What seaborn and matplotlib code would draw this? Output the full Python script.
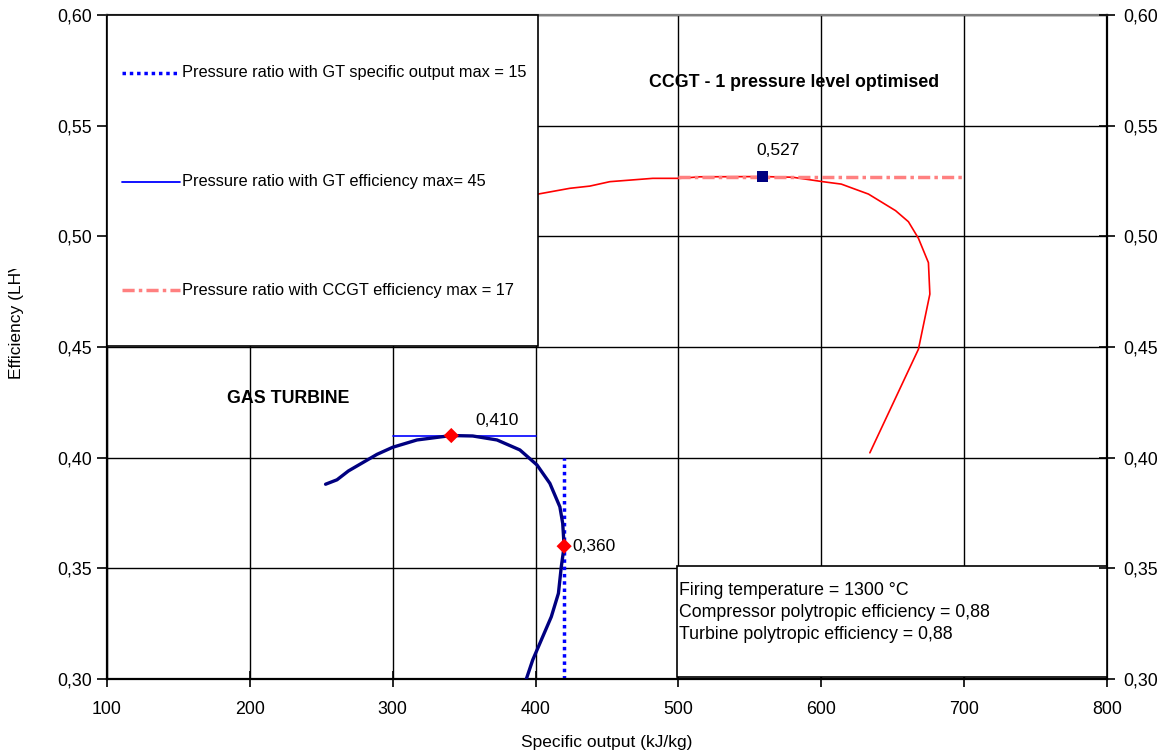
import matplotlib
matplotlib.use("Agg")
import matplotlib.pyplot as plt
from matplotlib.patches import Rectangle
from matplotlib.lines import Line2D
from matplotlib.ticker import FuncFormatter, MultipleLocator
import seaborn as sns

# Gas turbine: efficiency vs specific output over the pressure-ratio sweep
gt_output = [253, 261, 269, 277, 289, 300, 317, 341, 356, 373, 389, 401,
             410, 417, 419, 420, 418, 416, 411, 404, 398, 393]
gt_eff = [0.388, 0.390, 0.394, 0.397, 0.4015, 0.4047, 0.408, 0.410, 0.4098,
          0.408, 0.4035, 0.3967, 0.3884, 0.3778, 0.3703, 0.360, 0.3507,
          0.3387, 0.3281, 0.3176, 0.3086, 0.299]

# Combined cycle, one pressure level
cc_output = [395, 424, 438, 452, 482, 501, 515, 559, 580, 601, 614, 622,
             633, 652, 661, 668, 675, 676, 668, 634]
cc_eff = [0.5183, 0.5217, 0.5227, 0.5247, 0.5262, 0.5262, 0.5269, 0.527,
          0.5267, 0.5247, 0.5236, 0.5217, 0.5191, 0.5116, 0.5066, 0.4991,
          0.4881, 0.4739, 0.4490, 0.4022]

# Optimum points
gt_eff_max = (341, 0.410)
gt_out_max = (420, 0.360)
cc_eff_max = (559, 0.527)

# Pressure-ratio reference lines
ref_out_x, ref_out_y = [420, 420], [0.30, 0.40]
ref_gteff_x, ref_gteff_y = [300, 400], [0.410, 0.410]
ref_cceff_x, ref_cceff_y = [500, 700], [0.527, 0.527]

legend_labels = ["Pressure ratio with GT specific output max = 15",
                 "Pressure ratio with GT efficiency max= 45",
                 "Pressure ratio with CCGT efficiency max = 17"]
info_lines = ["Firing temperature = 1300 \u00b0C",
              "Compressor polytropic efficiency = 0,88",
              "Turbine polytropic efficiency = 0,88"]

sns.set_theme(style="white")
plt.rcParams["font.family"] = ["Liberation Sans", "DejaVu Sans"]
plt.rcParams.update({"text.color": "black", "axes.labelcolor": "black",
                     "xtick.color": "black", "ytick.color": "black"})

fig = plt.figure(figsize=(11.64, 7.51), dpi=100)
ax = fig.add_axes([107 / 1164, 1 - 679 / 751, 1000 / 1164, 664 / 751])

pink = "#ff8080"
navy = "#000080"

sns.lineplot(x=cc_output, y=cc_eff, sort=False, estimator=None, ax=ax,
             color="#ff0000", lw=1.2, zorder=3)
line_cc = sns.lineplot(x=ref_cceff_x, y=ref_cceff_y, sort=False, estimator=None,
                       ax=ax, color=pink, lw=2.5, zorder=4).lines[-1]
line_cc.set_dashes((3.5, 1.2, 1.0, 1.2))
sns.lineplot(x=gt_output, y=gt_eff, sort=False, estimator=None, ax=ax,
             color=navy, lw=2.4, zorder=3)
sns.lineplot(x=ref_gteff_x, y=ref_gteff_y, sort=False, estimator=None, ax=ax,
             color="#0000ff", lw=1.2, zorder=2)
line_out = sns.lineplot(x=ref_out_x, y=ref_out_y, sort=False, estimator=None,
                        ax=ax, color="#0000ff", lw=2.5, zorder=2).lines[-1]
line_out.set_dashes((1, 1.1))

sns.scatterplot(x=[gt_eff_max[0], gt_out_max[0]], y=[gt_eff_max[1], gt_out_max[1]],
                ax=ax, marker="D", s=60, color="#ff0000", edgecolor="none", zorder=5)
sns.scatterplot(x=[cc_eff_max[0]], y=[cc_eff_max[1]], ax=ax, marker="s", s=60,
                color=navy, edgecolor="none", zorder=5)

def fmt_val(v, nd):
    return f"{v:.{nd}f}".replace(".", ",")

ax.annotate(fmt_val(cc_eff_max[1], 3), xy=cc_eff_max, xytext=(11, 19),
            textcoords="offset points", ha="center", va="center", fontsize=12.5)
ax.annotate(fmt_val(gt_eff_max[1], 3), xy=gt_eff_max, xytext=(33, 11),
            textcoords="offset points", ha="center", va="center", fontsize=12.5)
ax.annotate(fmt_val(gt_out_max[1], 3), xy=gt_out_max, xytext=(6, 0),
            textcoords="offset points", ha="left", va="center", fontsize=12.5)

ax.text(0.6875, 0.899, "CCGT - 1 pressure level optimised", transform=ax.transAxes,
        ha="center", va="center", fontsize=12.8, fontweight="bold")
ax.text(0.1815, 0.423, "GAS TURBINE", transform=ax.transAxes,
        ha="center", va="center", fontsize=12.8, fontweight="bold")

# Legend panel
ax.add_patch(Rectangle((0, 0.5015), 0.431, 0.4985, transform=ax.transAxes,
                       facecolor="white", edgecolor="black", lw=1.2, zorder=6,
                       clip_on=False))
rows = [0.9127, 0.7485, 0.5858]
styles = [dict(color="#0000ff", lw=2.5, dashes=(1, 1.1)),
          dict(color="#0000ff", lw=1.3),
          dict(color=pink, lw=2.5, dashes=(3.5, 1.2, 1.0, 1.2))]
for yr, lab, st in zip(rows, legend_labels, styles):
    kw = dict(st)
    dashes = kw.pop("dashes", None)
    ln = Line2D([0.015, 0.073], [yr, yr], transform=ax.transAxes, zorder=7, **kw)
    if dashes:
        ln.set_dashes(dashes)
    ax.add_line(ln)
    ax.text(0.075, yr, lab, transform=ax.transAxes, ha="left", va="center",
            fontsize=11.8, zorder=7)

# Operating conditions panel
ax.add_patch(Rectangle((0.570, 0.003), 0.430, 0.167, transform=ax.transAxes,
                       facecolor="white", edgecolor="black", lw=1.2, zorder=6,
                       clip_on=False))
for i, line in enumerate(info_lines):
    ax.text(0.572, 0.134 - i * 0.0335, line, transform=ax.transAxes, ha="left",
            va="center", fontsize=12.8, zorder=7)

ax.set_xlim(100, 800)
ax.set_ylim(0.30, 0.60)
ax.xaxis.set_major_locator(MultipleLocator(100))
ax.yaxis.set_major_locator(MultipleLocator(0.05))
yfmt = FuncFormatter(lambda v, p: fmt_val(v, 2))
ax.yaxis.set_major_formatter(yfmt)
ax.grid(True, color="black", lw=1.0)
ax.set_axisbelow(True)
ax.tick_params(axis="y", direction="out", length=7, width=1.2, labelsize=12.8,
               left=True, pad=4)
ax.tick_params(axis="x", direction="inout", length=12, width=1.2, labelsize=12.8,
               bottom=True, pad=10)
for side in ["left", "bottom", "right"]:
    ax.spines[side].set_color("black")
    ax.spines[side].set_linewidth(1.6)
ax.spines["top"].set_color("#808080")
ax.spines["top"].set_linewidth(1.6)

ax2 = ax.twinx()
ax2.set_ylim(0.30, 0.60)
ax2.yaxis.set_major_locator(MultipleLocator(0.05))
ax2.yaxis.set_major_formatter(yfmt)
ax2.tick_params(axis="y", direction="inout", length=12, width=1.2,
                labelsize=12.8, right=True, pad=6)
ax2.grid(False)
for s in ax2.spines.values():
    s.set_visible(False)

ax.set_xlabel("Specific output (kJ/kg)", fontsize=12.5, labelpad=12)
ax.set_ylabel("")

# Vertical axis title; its upper end is masked by the page margin block
fig.text(17 / 1164, 1 - 379 / 751, "Efficiency (LHV)", rotation=90,
         ha="center", va="bottom", fontsize=12.5, zorder=1)
fig.add_artist(Rectangle((0, 1 - 269 / 751), 40 / 1164, 269 / 751,
                         transform=fig.transFigure, facecolor="white",
                         edgecolor="none", zorder=10))

fig.savefig("out.png", dpi=100)
